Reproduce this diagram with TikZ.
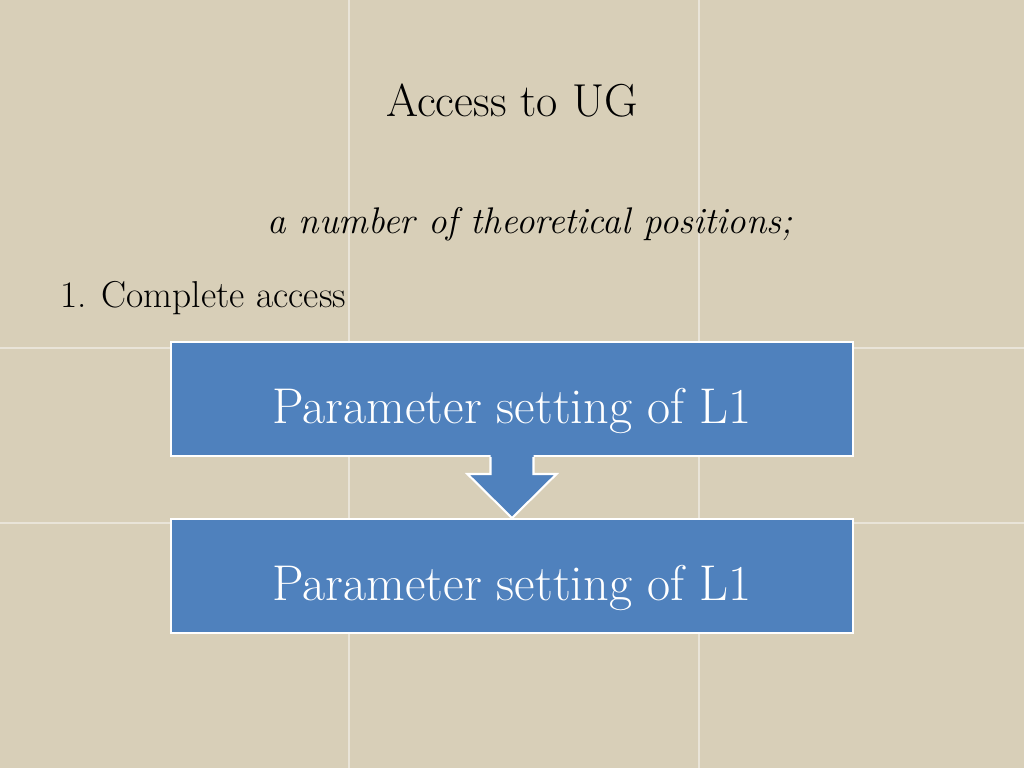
\documentclass[tikz,border=0pt]{standalone}
\usetikzlibrary{positioning,calc}
\definecolor{canvas}{RGB}{216,207,184}
\definecolor{boxblue}{RGB}{79,129,189}
\tikzset{
  stepbox/.style={draw=white,line width=1.2pt,fill=boxblue,text=white,
    minimum width=13.64cm,minimum height=2.28cm,inner sep=0pt,
    text height=1.17cm,text depth=0.19cm,
    font=\fontsize{28.6}{34}\selectfont},
}
\begin{document}
\begin{tikzpicture}[x=0.02cm,y=-0.02cm]
  % background: comment for plain page
  \fill[canvas] (0,0) rectangle (1024,768);
  \useasboundingbox (0,0) rectangle (1024,768);
  \draw[white,opacity=.45,line width=.6pt] (349,0) -- (349,768);
  \draw[white,opacity=.45,line width=.6pt] (699,0) -- (699,768);
  \draw[white,opacity=.45,line width=.6pt] (0,348) -- (1024,348);
  \draw[white,opacity=.45,line width=.6pt] (0,523) -- (1024,523);

  % text
  \node (title) at (512,101) {\fontsize{26.3}{31}\selectfont Access to UG};
  \node (sub)   at (530,224) {\fontsize{21.1}{25}\selectfont\itshape a number of theoretical positions;};
  \node[anchor=west] (item) at (54,298) {\fontsize{21.3}{25}\selectfont 1. Complete access};

  % boxes
  \node[stepbox] (top) at (512,399) {Parameter setting of L1};
  \node[stepbox,below=1.22cm of top] (bot) {Parameter setting of L1};

  % block arrow
  \fill[boxblue] ($(top.south)+(-21.5,-3)$) -- ($(top.south)+(-21.5,17)$)
    -- ($(top.south)+(-44.5,17)$) -- (bot.north) -- ($(top.south)+(44.5,17)$)
    -- ($(top.south)+(21.5,17)$) -- ($(top.south)+(21.5,-3)$) -- cycle;
  \draw[white,line width=1.2pt,line join=miter] ($(top.south)+(-21.5,0)$) -- ($(top.south)+(-21.5,17)$)
    -- ($(top.south)+(-44.5,17)$) -- (bot.north) -- ($(top.south)+(44.5,17)$)
    -- ($(top.south)+(21.5,17)$) -- ($(top.south)+(21.5,0)$);

\end{tikzpicture}
\end{document}
